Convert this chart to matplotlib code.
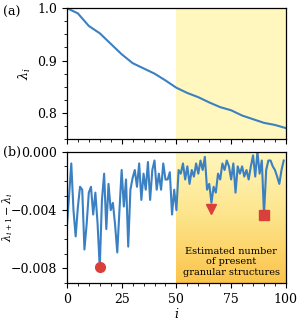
import numpy as np
import matplotlib
matplotlib.use("Agg")
import matplotlib.pyplot as plt
from matplotlib.colors import LinearSegmentedColormap
from matplotlib.ticker import MultipleLocator

plt.rcParams['font.family'] = ['DejaVu Serif']
plt.rcParams['mathtext.fontset'] = 'dejavuserif'

# panel (a): eigenvalue trail, read every 5 steps
idx_a = [0, 5, 10, 15, 20, 25, 30, 35, 40, 45, 50,
         55, 60, 65, 70, 75, 80, 85, 90, 95, 100]
lam = [1.000, 0.990, 0.966, 0.952, 0.932, 0.912, 0.895, 0.885, 0.875, 0.862, 0.848,
       0.838, 0.830, 0.820, 0.811, 0.805, 0.795, 0.788, 0.781, 0.777, 0.771]

# panel (b): successive differences (x 1e-3)
diff = [-5.1, -3.0, -0.8, -4.0, -5.8, -3.8, -2.4, -2.6, -6.7, -5.0,
        -2.8, -2.4, -4.3, -2.8, -4.9, -7.95, -3.3, -1.5, -5.3, -2.2,
        -4.0, -3.5, -5.0, -6.9, -4.0, -1.25, -3.75, -1.9, -6.5, -2.6,
        -1.8, -1.25, -2.4, -0.8, -3.3, -1.5, -2.6, -0.7, -3.3, -1.25,
        -0.6, -2.6, -1.5, -2.6, -0.8, -1.9, -1.9, -1.4, -4.3, -2.6,
        -4.0, -1.25, -1.5, -0.8, -1.9, -1.0, -2.2, -1.25, -1.7, -0.8,
        -1.5, -0.6, -1.25, -0.35, -2.6, -2.2, -3.5, -2.4, -2.8, -1.5,
        -1.9, -0.8, -1.25, -0.6, -1.0, -1.9, -0.8, -2.8, -1.0, -1.5,
        -1.0, -1.7, -1.25, -1.9, -1.0, -0.25, -1.7, -0.0, -1.5, -0.6,
        -4.3, -1.25, -0.6, -0.6, -1.0, -1.25, -1.7, -2.2, -1.25, -0.6]
idx_b = np.arange(len(diff))

# highlighted structures
mark_x = [15, 66, 90]
mark_y = [-7.9, -3.9, -4.3]
mark_m = ['o', 'v', 's']

blue = '#3a80c2'
red = '#d9403a'

fig = plt.figure(figsize=(3.0, 3.25), dpi=100)
ax1 = fig.add_axes([0.223, 0.572, 0.730, 0.403])
ax2 = fig.add_axes([0.223, 0.129, 0.730, 0.404])

ax1.axvspan(50, 100, color='#fff7bd', zorder=0, lw=0)
ax1.plot(idx_a, lam, color=blue, lw=1.5)
ax1.set_xlim(0, 100)
ax1.set_ylim(0.75, 1.0)
ax1.set_yticks([0.8, 0.9, 1.0])
ax1.yaxis.set_minor_locator(MultipleLocator(0.025))
ax1.xaxis.set_major_locator(MultipleLocator(25))
ax1.xaxis.set_minor_locator(MultipleLocator(5))
ax1.tick_params(labelbottom=False)
ax1.set_ylabel(r'$\lambda_i$', fontsize=9)
ax1.yaxis.set_label_coords(-0.155, 0.5)

# gradient shading in panel (b)
cmap = LinearSegmentedColormap.from_list('yo', ['#fff7bd', '#fde48a', '#fbc44a'])
grad = np.linspace(0, 1, 256).reshape(-1, 1)
ax2.imshow(grad, cmap=cmap, aspect='auto', extent=[50, 100, 0, -9],
           origin='lower', zorder=0)
ax2.plot(idx_b, diff, color=blue, lw=1.5, zorder=2)
for x, y, m in zip(mark_x, mark_y, mark_m):
    ax2.plot(x, y, marker=m, color=red, ms=7, zorder=3, ls='none')
ax2.set_xlim(0, 100)
ax2.set_ylim(-9, 0)
ax2.set_yticks([-8, -4, 0])
ax2.set_yticklabels(['\u22120.008', '\u22120.004', '0.000'])
ax2.yaxis.set_minor_locator(MultipleLocator(1))
ax2.xaxis.set_major_locator(MultipleLocator(25))
ax2.xaxis.set_minor_locator(MultipleLocator(5))
ax2.set_ylabel(r'$\lambda_{i+1}-\lambda_i$', fontsize=8)
ax2.yaxis.set_label_coords(-0.237, 0.5)
ax2.set_xlabel(r'$i$', fontsize=9, labelpad=1)
ax2.text(75, -7.55, 'Estimated number\nof present\ngranular structures',
         ha='center', va='center', fontsize=7, linespacing=1.25)

for ax in (ax1, ax2):
    ax.tick_params(which='major', direction='out', length=3.5, width=0.8, labelsize=9)
    ax.tick_params(which='minor', direction='out', length=2, width=0.6)
    for s in ax.spines.values():
        s.set_linewidth(0.9)

fig.text(0.01, 0.962, '(a)', fontsize=9, va='center')
fig.text(0.01, 0.532, '(b)', fontsize=9, va='center')

fig.savefig('out.png', dpi=100)
